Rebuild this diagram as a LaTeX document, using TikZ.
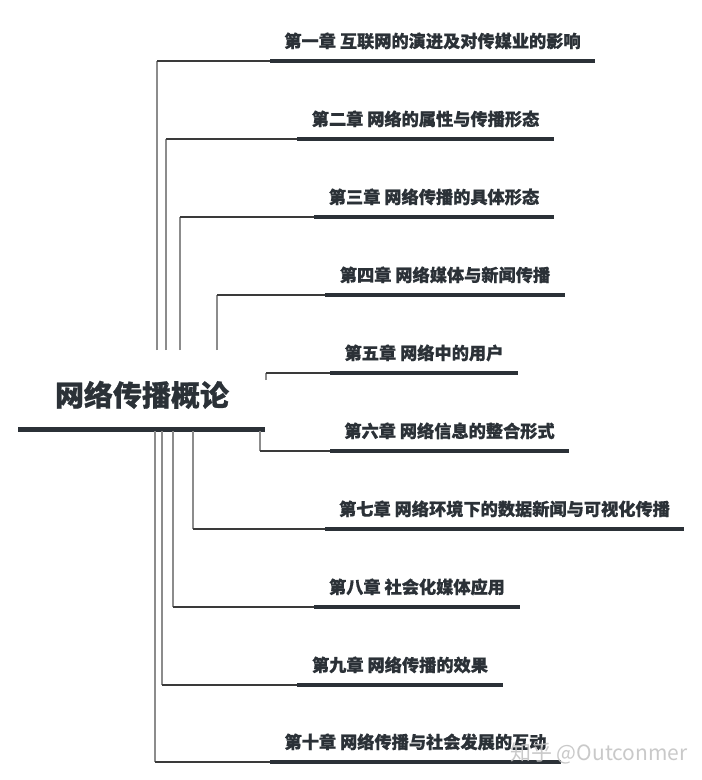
\documentclass[tikz,border=0pt]{standalone}
\usepackage{fontspec}
\newfontfamily\cjk{Noto Sans CJK SC}[BoldFeatures={FakeBold=0.8}]
\definecolor{ink}{HTML}{2B3137}
\definecolor{vgray}{HTML}{8C8C8C}
\definecolor{hgray}{HTML}{3A3A3A}
\definecolor{wmgray}{HTML}{C4C4C4}
\begin{document}
\begin{tikzpicture}[x=1pt,y=-1pt,
  chap/.style={font=\cjk\bfseries\fontsize{17.2}{17.2}\selectfont, text=ink, inner sep=0pt, anchor=base},
  rootnode/.style={font=\cjk\bfseries\fontsize{29}{29}\selectfont, text=ink, inner sep=0pt, anchor=base},
  bar/.style={line width=3.8pt, draw=ink},
  mainbar/.style={line width=5pt, draw=ink},
  vline/.style={line width=1.4pt, draw=vgray},
  hline/.style={line width=1.2pt, draw=hgray},
  wmark/.style={font=\cjk\fontsize{21}{21}\selectfont, text=wmgray, inner sep=0pt, anchor=base west, opacity=0.9}]
\useasboundingbox[fill=white] (0,0) rectangle (702,780);
\node[rootnode] (root) at (142,406) {网络传播概论};
\coordinate (m0) at (18,429);
\coordinate (m1) at (265,429);
\draw[mainbar] (m0) -- (m1);
\foreach \i/\vx/\vy/\ly/\sx/\ex/\t in {
  1/157/350/61/270/595/{第一章 互联网的演进及对传媒业的影响},
  2/166/350/139/297/554/{第二章 网络的属性与传播形态},
  3/180/350/217/314/554/{第三章 网络传播的具体形态},
  4/217/350/295/325/565/{第四章 网络媒体与新闻传播},
  5/266/380/373/330/518/{第五章 网络中的用户},
  6/260/431/451/330/569/{第六章 网络信息的整合形式},
  7/193/431/529/325/684/{第七章 网络环境下的数据新闻与可视化传播},
  8/173/431/607/314/520/{第八章 社会化媒体应用},
  9/162/431/685/297/503/{第九章 网络传播的效果},
  10/155/431/762/270/561/{第十章 网络传播与社会发展的互动}} {
  \coordinate (r\i) at (\vx,\vy);
  \coordinate (k\i) at (\vx,\ly);
  \coordinate (s\i) at (\sx,\ly);
  \coordinate (e\i) at (\ex,\ly);
  \draw[vline] (r\i) -- (k\i);
  \draw[hline] (k\i) -- (s\i);
  \draw[bar] (s\i) -- (e\i);
  \pgfmathsetmacro\mx{(\sx+\ex)/2}
  \node[chap] (c\i) at (\mx,{\ly-13.5}) {\t};
}
\node[wmark] (wm) at (510,760) {知乎 @Outconmer};
\end{tikzpicture}
\end{document}
